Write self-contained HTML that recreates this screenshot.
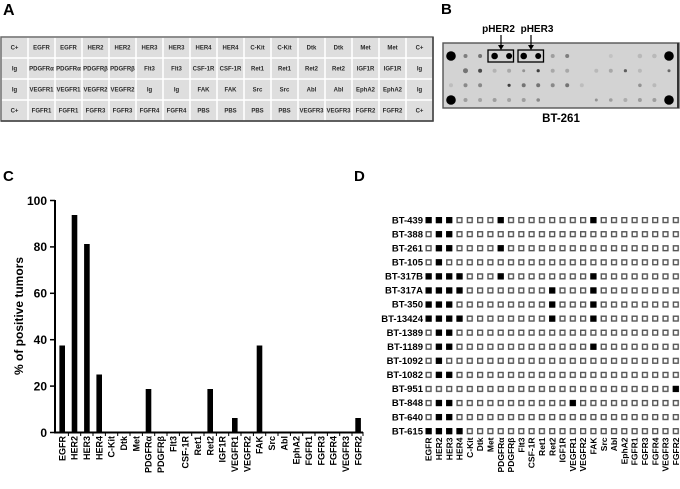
<!DOCTYPE html>
<html>
<head>
<meta charset="utf-8">
<style>
html,body{margin:0;padding:0;background:#fff;}
svg{display:block;}
text{font-family:"Liberation Sans",Arial,sans-serif;font-weight:bold;}
</style>
</head>
<body>
<svg width="680" height="489" viewBox="0 0 680 489" xmlns="http://www.w3.org/2000/svg">
<defs>
<pattern id="cell" x="1" y="37" width="27" height="21" patternUnits="userSpaceOnUse">
<rect x="0" y="0" width="27" height="21" fill="#fff"/>
<rect x="0.8" y="0.8" width="25.4" height="19.4" fill="#dedede"/>
</pattern>
<pattern id="sq" x="425.5" y="217" width="10.3" height="14.07" patternUnits="userSpaceOnUse">
<rect x="0.7" y="0.7" width="4.8" height="4.8" fill="#fff" stroke="#555" stroke-width="1.4"/>
</pattern>
</defs>

<!-- Panel labels -->
<text x="3" y="15" font-size="16">A</text>
<text x="441" y="14" font-size="15">B</text>
<text x="3" y="181" font-size="15">C</text>
<text x="354" y="181" font-size="15">D</text>

<!-- Panel A table -->
<rect x="1" y="37" width="432" height="84" fill="url(#cell)"/>
<rect x="1" y="37" width="432" height="84" fill="none" stroke="#6a6a6a" stroke-width="1.5"/>
<line x1="433" y1="37" x2="433" y2="121.5" stroke="#444" stroke-width="1.5"/>
<line x1="1" y1="121" x2="433.5" y2="121" stroke="#444" stroke-width="1.5"/>
<g font-size="6" fill="#2a2a2a" text-anchor="middle">
<text x="14.5" y="49.5">C+</text><text x="41.5" y="49.5">EGFR</text><text x="68.5" y="49.5">EGFR</text><text x="95.5" y="49.5">HER2</text><text x="122.5" y="49.5">HER2</text><text x="149.5" y="49.5">HER3</text><text x="176.5" y="49.5">HER3</text><text x="203.5" y="49.5">HER4</text><text x="230.5" y="49.5">HER4</text><text x="257.5" y="49.5">C-Kit</text><text x="284.5" y="49.5">C-Kit</text><text x="311.5" y="49.5">Dtk</text><text x="338.5" y="49.5">Dtk</text><text x="365.5" y="49.5">Met</text><text x="392.5" y="49.5">Met</text><text x="419.5" y="49.5">C+</text>
<text x="14.5" y="70.5">Ig</text><text x="41.5" y="70.5">PDGFRα</text><text x="68.5" y="70.5">PDGFRα</text><text x="95.5" y="70.5">PDGFRβ</text><text x="122.5" y="70.5">PDGFRβ</text><text x="149.5" y="70.5">Flt3</text><text x="176.5" y="70.5">Flt3</text><text x="203.5" y="70.5">CSF-1R</text><text x="230.5" y="70.5">CSF-1R</text><text x="257.5" y="70.5">Ret1</text><text x="284.5" y="70.5">Ret1</text><text x="311.5" y="70.5">Ret2</text><text x="338.5" y="70.5">Ret2</text><text x="365.5" y="70.5">IGF1R</text><text x="392.5" y="70.5">IGF1R</text><text x="419.5" y="70.5">Ig</text>
<text x="14.5" y="91.5">Ig</text><text x="41.5" y="91.5">VEGFR1</text><text x="68.5" y="91.5">VEGFR1</text><text x="95.5" y="91.5">VEGFR2</text><text x="122.5" y="91.5">VEGFR2</text><text x="149.5" y="91.5">Ig</text><text x="176.5" y="91.5">Ig</text><text x="203.5" y="91.5">FAK</text><text x="230.5" y="91.5">FAK</text><text x="257.5" y="91.5">Src</text><text x="284.5" y="91.5">Src</text><text x="311.5" y="91.5">Abl</text><text x="338.5" y="91.5">Abl</text><text x="365.5" y="91.5">EphA2</text><text x="392.5" y="91.5">EphA2</text><text x="419.5" y="91.5">Ig</text>
<text x="14.5" y="112.5">C+</text><text x="41.5" y="112.5">FGFR1</text><text x="68.5" y="112.5">FGFR1</text><text x="95.5" y="112.5">FGFR3</text><text x="122.5" y="112.5">FGFR3</text><text x="149.5" y="112.5">FGFR4</text><text x="176.5" y="112.5">FGFR4</text><text x="203.5" y="112.5">PBS</text><text x="230.5" y="112.5">PBS</text><text x="257.5" y="112.5">PBS</text><text x="284.5" y="112.5">PBS</text><text x="311.5" y="112.5">VEGFR3</text><text x="338.5" y="112.5">VEGFR3</text><text x="365.5" y="112.5">FGFR2</text><text x="392.5" y="112.5">FGFR2</text><text x="419.5" y="112.5">C+</text>
</g>

<!-- Panel B blot -->
<rect x="443" y="43" width="236" height="65" fill="#d3d3d3" stroke="#555" stroke-width="1.4"/>
<line x1="678" y1="43" x2="678" y2="108" stroke="#333" stroke-width="2"/>
<g fill="#000">
<circle cx="451" cy="56" r="4.8"/><circle cx="669" cy="56" r="4.8"/><circle cx="451" cy="100" r="4.8"/><circle cx="669" cy="100" r="4.8"/>
<circle cx="494.6" cy="56" r="3.3"/><circle cx="509.1" cy="56" r="3"/><circle cx="523.7" cy="56" r="3.3"/><circle cx="538.2" cy="56" r="3"/>
<circle cx="465.5" cy="56" r="2" opacity="0.4"/><circle cx="480.1" cy="56" r="2" opacity="0.45"/><circle cx="552.7" cy="56" r="2" opacity="0.25"/><circle cx="567.2" cy="56" r="2" opacity="0.4"/><circle cx="610.8" cy="56" r="2" opacity="0.08"/><circle cx="639.9" cy="56" r="2.3" opacity="0.12"/><circle cx="654.4" cy="56" r="2.3" opacity="0.12"/>
<circle cx="465.5" cy="70.7" r="2.5" opacity="0.45"/><circle cx="480.1" cy="70.7" r="2" opacity="0.65"/><circle cx="494.6" cy="70.7" r="2" opacity="0.15"/><circle cx="509.1" cy="70.7" r="2" opacity="0.2"/><circle cx="523.7" cy="70.7" r="1.5" opacity="0.3"/><circle cx="538.2" cy="70.7" r="1.6" opacity="0.7"/><circle cx="552.7" cy="70.7" r="2" opacity="0.2"/><circle cx="567.2" cy="70.7" r="2" opacity="0.2"/><circle cx="596.3" cy="70.7" r="2" opacity="0.12"/><circle cx="610.8" cy="70.7" r="2" opacity="0.2"/><circle cx="625.4" cy="70.7" r="1.6" opacity="0.55"/><circle cx="639.9" cy="70.7" r="2" opacity="0.12"/><circle cx="669" cy="70.7" r="1.5" opacity="0.5"/>
<circle cx="451" cy="85.3" r="2" opacity="0.1"/><circle cx="465.5" cy="85.3" r="2" opacity="0.35"/><circle cx="480.1" cy="85.3" r="2" opacity="0.35"/><circle cx="509.1" cy="85.3" r="1.6" opacity="0.7"/><circle cx="523.7" cy="85.3" r="2" opacity="0.45"/><circle cx="538.2" cy="85.3" r="2" opacity="0.45"/><circle cx="552.7" cy="85.3" r="2" opacity="0.35"/><circle cx="567.2" cy="85.3" r="2" opacity="0.45"/><circle cx="581.8" cy="85.3" r="2" opacity="0.1"/><circle cx="639.9" cy="85.3" r="1.8" opacity="0.3"/><circle cx="654.4" cy="85.3" r="2" opacity="0.12"/>
<circle cx="465.5" cy="100" r="2" opacity="0.25"/><circle cx="480.1" cy="100" r="2" opacity="0.22"/><circle cx="494.6" cy="100" r="2" opacity="0.25"/><circle cx="509.1" cy="100" r="2" opacity="0.22"/><circle cx="523.7" cy="100" r="2" opacity="0.25"/><circle cx="538.2" cy="100" r="1.8" opacity="0.35"/><circle cx="596.3" cy="100" r="1.5" opacity="0.3"/><circle cx="610.8" cy="100" r="1.8" opacity="0.25"/><circle cx="625.4" cy="100" r="2" opacity="0.18"/><circle cx="639.9" cy="100" r="2" opacity="0.25"/><circle cx="654.4" cy="100" r="2" opacity="0.25"/>
</g>
<rect x="488" y="50" width="25.5" height="12" fill="none" stroke="#000" stroke-width="1.3"/>
<rect x="518" y="50" width="25.5" height="12" fill="none" stroke="#000" stroke-width="1.3"/>
<line x1="501" y1="35" x2="501" y2="46" stroke="#000" stroke-width="1.2"/>
<polygon points="498,45 504,45 501,50" fill="#000"/>
<line x1="531" y1="35" x2="531" y2="46" stroke="#000" stroke-width="1.2"/>
<polygon points="528,45 534,45 531,50" fill="#000"/>
<text x="498.5" y="32" font-size="10" text-anchor="middle">pHER2</text>
<text x="537" y="32" font-size="10" text-anchor="middle">pHER3</text>
<text x="561" y="122" font-size="11.5" text-anchor="middle">BT-261</text>

<!-- Panel C chart -->
<line x1="55" y1="200" x2="55" y2="433.5" stroke="#000" stroke-width="2"/>
<line x1="54" y1="432.5" x2="363" y2="432.5" stroke="#000" stroke-width="2"/>
<g stroke="#000" stroke-width="1.5">
<line x1="50" y1="200.5" x2="55" y2="200.5"/><line x1="50" y1="246.9" x2="55" y2="246.9"/><line x1="50" y1="293.3" x2="55" y2="293.3"/><line x1="50" y1="339.7" x2="55" y2="339.7"/><line x1="50" y1="386.1" x2="55" y2="386.1"/><line x1="50" y1="432.5" x2="55" y2="432.5"/>
</g>
<g stroke="#000" stroke-width="1">
<line x1="68.4" y1="432" x2="68.4" y2="436"/><line x1="80.7" y1="432" x2="80.7" y2="436"/><line x1="93" y1="432" x2="93" y2="436"/><line x1="105.4" y1="432" x2="105.4" y2="436"/><line x1="117.7" y1="432" x2="117.7" y2="436"/><line x1="130" y1="432" x2="130" y2="436"/><line x1="142.4" y1="432" x2="142.4" y2="436"/><line x1="154.7" y1="432" x2="154.7" y2="436"/><line x1="167" y1="432" x2="167" y2="436"/><line x1="179.4" y1="432" x2="179.4" y2="436"/><line x1="191.7" y1="432" x2="191.7" y2="436"/><line x1="204" y1="432" x2="204" y2="436"/><line x1="216.4" y1="432" x2="216.4" y2="436"/><line x1="228.7" y1="432" x2="228.7" y2="436"/><line x1="241" y1="432" x2="241" y2="436"/><line x1="253.4" y1="432" x2="253.4" y2="436"/><line x1="265.7" y1="432" x2="265.7" y2="436"/><line x1="278" y1="432" x2="278" y2="436"/><line x1="290.4" y1="432" x2="290.4" y2="436"/><line x1="302.7" y1="432" x2="302.7" y2="436"/><line x1="315" y1="432" x2="315" y2="436"/><line x1="327.4" y1="432" x2="327.4" y2="436"/><line x1="339.7" y1="432" x2="339.7" y2="436"/><line x1="352" y1="432" x2="352" y2="436"/><line x1="363" y1="432" x2="363" y2="436"/>
</g>
<g font-size="12" text-anchor="end">
<text x="47" y="204.8">100</text><text x="47" y="251.2">80</text><text x="47" y="297.6">60</text><text x="47" y="344">40</text><text x="47" y="390.4">20</text><text x="47" y="436.8">0</text>
</g>
<text transform="translate(23,316) rotate(-90)" font-size="12" text-anchor="middle">% of positive tumors</text>
<g fill="#000">
<rect x="59.4" y="345.5" width="5.6" height="87"/>
<rect x="71.7" y="215" width="5.6" height="217.5"/>
<rect x="84.1" y="244" width="5.6" height="188.5"/>
<rect x="96.4" y="374.5" width="5.6" height="58"/>
<rect x="145.7" y="389" width="5.6" height="43.5"/>
<rect x="207.4" y="389" width="5.6" height="43.5"/>
<rect x="232" y="418" width="5.6" height="14.5"/>
<rect x="256.7" y="345.5" width="5.6" height="87"/>
<rect x="355.3" y="418" width="5.6" height="14.5"/>
</g>
<g font-size="9" text-anchor="end">
<text transform="translate(65.4,436) rotate(-90)">EGFR</text>
<text transform="translate(77.7,436) rotate(-90)">HER2</text>
<text transform="translate(90.1,436) rotate(-90)">HER3</text>
<text transform="translate(102.4,436) rotate(-90)">HER4</text>
<text transform="translate(114.7,436) rotate(-90)">C-Kit</text>
<text transform="translate(127.1,436) rotate(-90)">Dtk</text>
<text transform="translate(139.4,436) rotate(-90)">Met</text>
<text transform="translate(151.7,436) rotate(-90)">PDGFRα</text>
<text transform="translate(164.1,436) rotate(-90)">PDGFRβ</text>
<text transform="translate(176.4,436) rotate(-90)">Flt3</text>
<text transform="translate(188.7,436) rotate(-90)">CSF-1R</text>
<text transform="translate(201.1,436) rotate(-90)">Ret1</text>
<text transform="translate(213.4,436) rotate(-90)">Ret2</text>
<text transform="translate(225.7,436) rotate(-90)">IGF1R</text>
<text transform="translate(238.1,436) rotate(-90)">VEGFR1</text>
<text transform="translate(250.4,436) rotate(-90)">VEGFR2</text>
<text transform="translate(262.7,436) rotate(-90)">FAK</text>
<text transform="translate(275.1,436) rotate(-90)">Src</text>
<text transform="translate(287.4,436) rotate(-90)">Abl</text>
<text transform="translate(299.7,436) rotate(-90)">EphA2</text>
<text transform="translate(312.1,436) rotate(-90)">FGFR1</text>
<text transform="translate(324.4,436) rotate(-90)">FGFR3</text>
<text transform="translate(336.7,436) rotate(-90)">FGFR4</text>
<text transform="translate(349.1,436) rotate(-90)">VEGFR3</text>
<text transform="translate(361.4,436) rotate(-90)">FGFR2</text>
</g>

<!-- Panel D -->
<rect x="425.5" y="217" width="257.5" height="225.1" fill="url(#sq)"/>
<g font-size="9.5" text-anchor="end">
<text x="423" y="223.3">BT-439</text>
<text x="423" y="237.4">BT-388</text>
<text x="423" y="251.4">BT-261</text>
<text x="423" y="265.5">BT-105</text>
<text x="423" y="279.6">BT-317B</text>
<text x="423" y="293.7">BT-317A</text>
<text x="423" y="307.7">BT-350</text>
<text x="423" y="321.8">BT-13424</text>
<text x="423" y="335.9">BT-1389</text>
<text x="423" y="349.9">BT-1189</text>
<text x="423" y="364">BT-1092</text>
<text x="423" y="378.1">BT-1082</text>
<text x="423" y="392.1">BT-951</text>
<text x="423" y="406.2">BT-848</text>
<text x="423" y="420.3">BT-640</text>
<text x="423" y="434.4">BT-615</text>
</g>
<g fill="#000">
<rect x="425.5" y="217" width="6.2" height="6.2"/><rect x="435.8" y="217" width="6.2" height="6.2"/><rect x="446.1" y="217" width="6.2" height="6.2"/><rect x="497.6" y="217" width="6.2" height="6.2"/><rect x="590.3" y="217" width="6.2" height="6.2"/>
<rect x="435.8" y="231.07" width="6.2" height="6.2"/><rect x="446.1" y="231.07" width="6.2" height="6.2"/>
<rect x="435.8" y="245.14" width="6.2" height="6.2"/><rect x="446.1" y="245.14" width="6.2" height="6.2"/><rect x="497.6" y="245.14" width="6.2" height="6.2"/>
<rect x="435.8" y="259.21" width="6.2" height="6.2"/>
<rect x="425.5" y="273.28" width="6.2" height="6.2"/><rect x="435.8" y="273.28" width="6.2" height="6.2"/><rect x="446.1" y="273.28" width="6.2" height="6.2"/><rect x="456.4" y="273.28" width="6.2" height="6.2"/><rect x="497.6" y="273.28" width="6.2" height="6.2"/><rect x="590.3" y="273.28" width="6.2" height="6.2"/>
<rect x="425.5" y="287.35" width="6.2" height="6.2"/><rect x="435.8" y="287.35" width="6.2" height="6.2"/><rect x="446.1" y="287.35" width="6.2" height="6.2"/><rect x="456.4" y="287.35" width="6.2" height="6.2"/><rect x="549.1" y="287.35" width="6.2" height="6.2"/><rect x="590.3" y="287.35" width="6.2" height="6.2"/>
<rect x="425.5" y="301.42" width="6.2" height="6.2"/><rect x="435.8" y="301.42" width="6.2" height="6.2"/><rect x="446.1" y="301.42" width="6.2" height="6.2"/><rect x="549.1" y="301.42" width="6.2" height="6.2"/><rect x="590.3" y="301.42" width="6.2" height="6.2"/>
<rect x="425.5" y="315.49" width="6.2" height="6.2"/><rect x="435.8" y="315.49" width="6.2" height="6.2"/><rect x="446.1" y="315.49" width="6.2" height="6.2"/><rect x="456.4" y="315.49" width="6.2" height="6.2"/><rect x="549.1" y="315.49" width="6.2" height="6.2"/><rect x="590.3" y="315.49" width="6.2" height="6.2"/>
<rect x="435.8" y="329.56" width="6.2" height="6.2"/><rect x="446.1" y="329.56" width="6.2" height="6.2"/>
<rect x="435.8" y="343.63" width="6.2" height="6.2"/><rect x="446.1" y="343.63" width="6.2" height="6.2"/><rect x="590.3" y="343.63" width="6.2" height="6.2"/>
<rect x="435.8" y="357.7" width="6.2" height="6.2"/>
<rect x="435.8" y="371.77" width="6.2" height="6.2"/><rect x="446.1" y="371.77" width="6.2" height="6.2"/>
<rect x="672.7" y="385.84" width="6.2" height="6.2"/>
<rect x="435.8" y="399.91" width="6.2" height="6.2"/><rect x="446.1" y="399.91" width="6.2" height="6.2"/><rect x="569.7" y="399.91" width="6.2" height="6.2"/>
<rect x="435.8" y="413.98" width="6.2" height="6.2"/><rect x="446.1" y="413.98" width="6.2" height="6.2"/>
<rect x="425.5" y="428.05" width="6.2" height="6.2"/><rect x="435.8" y="428.05" width="6.2" height="6.2"/><rect x="446.1" y="428.05" width="6.2" height="6.2"/><rect x="456.4" y="428.05" width="6.2" height="6.2"/>
</g>
<g font-size="8.5" text-anchor="end">
<text transform="translate(431.7,437.5) rotate(-90)">EGFR</text>
<text transform="translate(442,437.5) rotate(-90)">HER2</text>
<text transform="translate(452.3,437.5) rotate(-90)">HER3</text>
<text transform="translate(462.6,437.5) rotate(-90)">HER4</text>
<text transform="translate(472.9,437.5) rotate(-90)">C-Kit</text>
<text transform="translate(483.2,437.5) rotate(-90)">Dtk</text>
<text transform="translate(493.5,437.5) rotate(-90)">Met</text>
<text transform="translate(503.8,437.5) rotate(-90)">PDGFRα</text>
<text transform="translate(514.1,437.5) rotate(-90)">PDGFRβ</text>
<text transform="translate(524.4,437.5) rotate(-90)">Flt3</text>
<text transform="translate(534.7,437.5) rotate(-90)">CSF-1R</text>
<text transform="translate(545,437.5) rotate(-90)">Ret1</text>
<text transform="translate(555.3,437.5) rotate(-90)">Ret2</text>
<text transform="translate(565.6,437.5) rotate(-90)">IGF1R</text>
<text transform="translate(575.9,437.5) rotate(-90)">VEGFR1</text>
<text transform="translate(586.2,437.5) rotate(-90)">VEGFR2</text>
<text transform="translate(596.5,437.5) rotate(-90)">FAK</text>
<text transform="translate(606.8,437.5) rotate(-90)">Src</text>
<text transform="translate(617.1,437.5) rotate(-90)">Abl</text>
<text transform="translate(627.4,437.5) rotate(-90)">EphA2</text>
<text transform="translate(637.7,437.5) rotate(-90)">FGFR1</text>
<text transform="translate(648,437.5) rotate(-90)">FGFR3</text>
<text transform="translate(658.3,437.5) rotate(-90)">FGFR4</text>
<text transform="translate(668.6,437.5) rotate(-90)">VEGFR3</text>
<text transform="translate(678.9,437.5) rotate(-90)">FGFR2</text>
</g>
</svg>
</body>
</html>
